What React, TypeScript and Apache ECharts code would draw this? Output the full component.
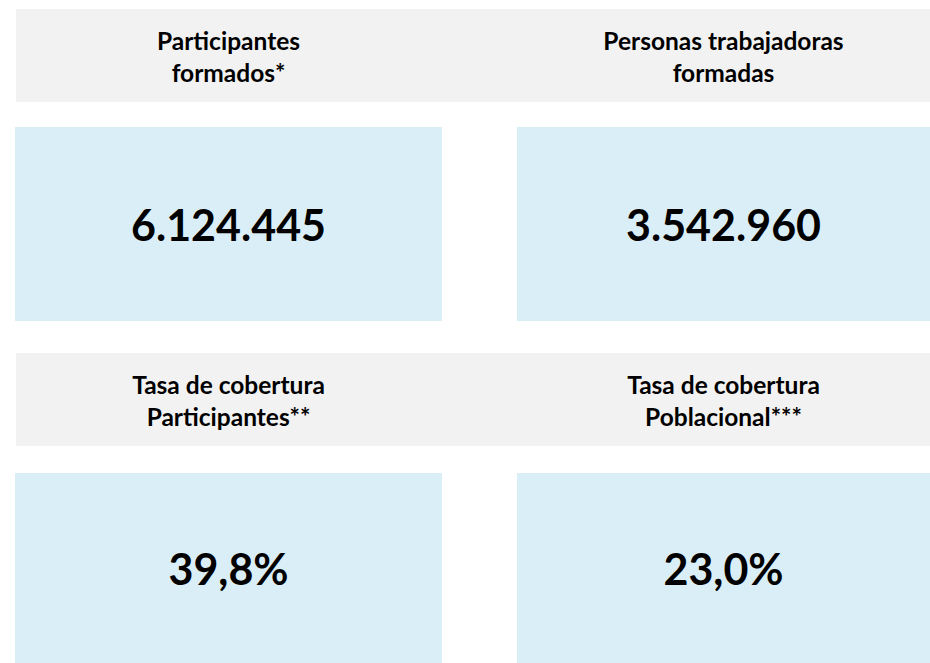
import React, { useEffect, useRef } from "react";
import * as echarts from "echarts";

const headerTitles: string[] = [
  "Participantes\nformados*",
  "Personas trabajadoras\nformadas",
  "Tasa de cobertura\nParticipantes**",
  "Tasa de cobertura\nPoblacional***",
];
const kpiValues: string[] = ["6.124.445", "3.542.960", "39,8%", "23,0%"];

const FONT = "Lato, 'Open Sans', sans-serif";

export default function App() {
  const ref = useRef<HTMLDivElement>(null);
  useEffect(() => {
    if (!ref.current) return;
    const chart = echarts.init(ref.current, null, { renderer: "svg" });
    const colX = [
      { x: 15, w: 427 },
      { x: 517, w: 413 },
    ];
    const rows = [
      { hy: 9, hh: 93, vy: 127, vh: 194 },
      { hy: 353, hh: 93, vy: 473, vh: 190 },
    ];
    const elements: any[] = [];
    rows.forEach((r, ri) => {
      elements.push({
        type: "rect",
        shape: { x: 16, y: r.hy, width: 914, height: r.hh },
        style: { fill: "#f2f2f2" },
        silent: true,
      });
      colX.forEach((c, ci) => {
        const idx = ri * 2 + ci;
        const cx = c.x + c.w / 2;
        elements.push({
          type: "rect",
          shape: { x: c.x, y: r.vy, width: c.w, height: r.vh },
          style: { fill: "#daeef8" },
          silent: true,
        });
        elements.push({
          type: "text",
          x: cx,
          y: r.hy + r.hh / 2 + 1,
          style: {
            text: headerTitles[idx],
            fill: "#000",
            fontFamily: FONT,
            fontSize: 24.5,
            fontWeight: "bold",
            lineHeight: 32,
            align: "center",
            verticalAlign: "middle",
          },
          silent: true,
        });
        elements.push({
          type: "text",
          x: cx,
          y: r.vy + r.vh / 2,
          style: {
            text: kpiValues[idx],
            fill: "#000",
            fontFamily: FONT,
            fontSize: 43,
            fontWeight: "bold",
            align: "center",
            verticalAlign: "middle",
          },
          silent: true,
        });
      });
    });
    chart.setOption({
      animation: false,
      backgroundColor: "#ffffff",
      graphic: { elements },
    });
    return () => chart.dispose();
  }, []);
  return (
    <div
      ref={ref}
      style={{ position: "fixed", left: 0, top: 0, width: 930, height: 663 }}
    />
  );
}
